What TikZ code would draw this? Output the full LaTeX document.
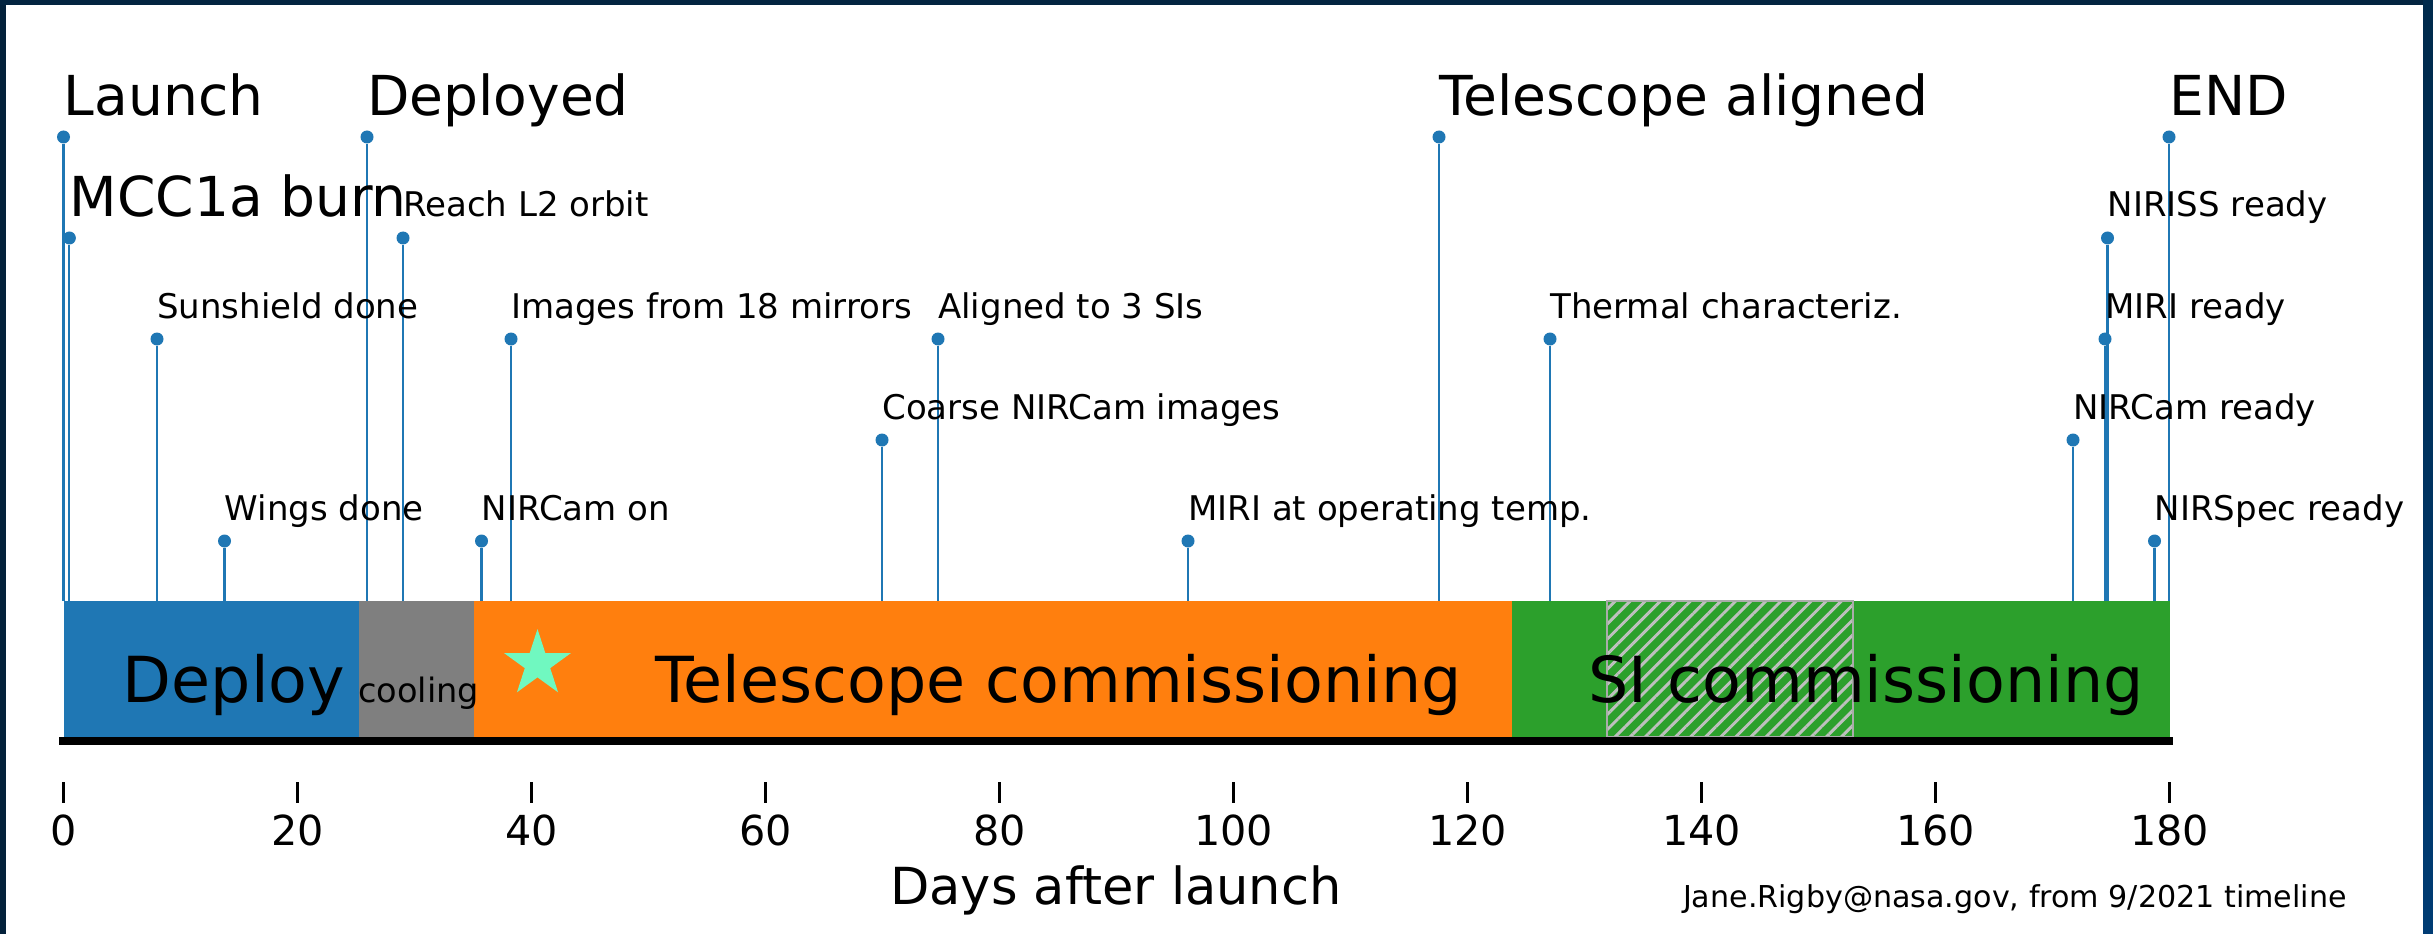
\documentclass[tikz,border=0pt]{standalone}
\usepackage{fontspec}
\setmainfont{DejaVu Sans}
\usepackage{tikz}
\usetikzlibrary{shapes.geometric}
\usetikzlibrary{patterns.meta}

\begin{document}
\begin{tikzpicture}[x=0.75pt,y=0.75pt,yscale=-1,xscale=1,
  stemline/.style={color={rgb, 255:red, 31; green, 119; blue, 180}, line width=1.6},
  evdot/.style={circle, fill={rgb, 255:red, 31; green, 119; blue, 180}, inner sep=0pt, minimum size=9.75},
  bigtxt/.style={anchor=base west, inner sep=0pt, font=\fontsize{41.3}{45}\selectfont},
  smalltxt/.style={anchor=base west, inner sep=0pt, font=\fontsize{25.5}{28}\selectfont},
  barlbl/.style={anchor=base, inner sep=0pt, font=\fontsize{47.6}{52}\selectfont},
  ticklbl/.style={anchor=base, inner sep=0pt, font=\fontsize{31}{34}\selectfont}]
%set diagram left start at 0, and has height of 934
\useasboundingbox (0,0) rectangle (2433,934);
\fill [white] (0,0) rectangle (2433,934);

%Frame
\fill [color={rgb, 255:red, 3; green, 33; blue, 59 }] (0,0) rectangle (6,934);
\fill [color={rgb, 255:red, 3; green, 36; blue, 64 }] (0,0) rectangle (2433,5);
\shade [top color={rgb, 255:red, 0; green, 42; blue, 76 }, bottom color={rgb, 255:red, 0; green, 60; blue, 116 }] (2423,0) rectangle (2433,934);

%Event dots
\coordinate (bartop) at (0,601);
\node [evdot] (launch) at (63.5,137) {};
\node [evdot] (mcc) at (69.4,238) {};
\node [evdot] (sunshield) at (157,339) {};
\node [evdot] (wings) at (224.5,541) {};
\node [evdot] (deployed) at (367,137) {};
\node [evdot] (ltwo) at (403,238) {};
\node [evdot] (ncamon) at (481.5,541) {};
\node [evdot] (mirrors) at (511,339) {};
\node [evdot] (coarse) at (882,440) {};
\node [evdot] (aligned) at (938,339) {};
\node [evdot] (miritemp) at (1188,541) {};
\node [evdot] (telal) at (1439,137) {};
\node [evdot] (thermal) at (1550,339) {};
\node [evdot] (ncamrdy) at (2073,440) {};
\node [evdot] (mirirdy) at (2105,339) {};
\node [evdot] (nirissrdy) at (2107.5,238) {};
\node [evdot] (nirspecrdy) at (2154.5,541) {};
\node [evdot] (endp) at (2169,137) {};

%Stems
\draw [stemline] (launch.south) -- (launch.south |- bartop);
\draw [stemline] (mcc.south) -- (mcc.south |- bartop);
\draw [stemline] (sunshield.south) -- (sunshield.south |- bartop);
\draw [stemline] (wings.south) -- (wings.south |- bartop);
\draw [stemline] (deployed.south) -- (deployed.south |- bartop);
\draw [stemline] (ltwo.south) -- (ltwo.south |- bartop);
\draw [stemline] (ncamon.south) -- (ncamon.south |- bartop);
\draw [stemline] (mirrors.south) -- (mirrors.south |- bartop);
\draw [stemline] (coarse.south) -- (coarse.south |- bartop);
\draw [stemline] (aligned.south) -- (aligned.south |- bartop);
\draw [stemline] (miritemp.south) -- (miritemp.south |- bartop);
\draw [stemline] (telal.south) -- (telal.south |- bartop);
\draw [stemline] (thermal.south) -- (thermal.south |- bartop);
\draw [stemline] (ncamrdy.south) -- (ncamrdy.south |- bartop);
\draw [stemline] (mirirdy.south) -- (mirirdy.south |- bartop);
\draw [stemline] (nirissrdy.south) -- (nirissrdy.south |- bartop);
\draw [stemline] (nirspecrdy.south) -- (nirspecrdy.south |- bartop);
\draw [stemline] (endp.south) -- (endp.south |- bartop);

%Phase bars
\fill [color={rgb, 255:red, 31; green, 119; blue, 180 }] (63.5,601) rectangle (359.4,737);
\fill [color={rgb, 255:red, 127; green, 127; blue, 127 }] (359.4,601) rectangle (474,737);
\fill [color={rgb, 255:red, 255; green, 127; blue, 14 }] (474,601) rectangle (1512,737);
\fill [color={rgb, 255:red, 44; green, 160; blue, 44 }] (1512,601) rectangle (2170,737);
%Hatched block
\fill [pattern={Lines[angle=45,distance=8pt,line width=2.2pt]}, pattern color={rgb, 255:red, 190; green, 192; blue, 190 }] (1607,601) rectangle (1853,737);
\draw [color={rgb, 255:red, 170; green, 172; blue, 170 }, line width=1.5] (1607,601) rectangle (1853,737);
%Axis line
\draw [line width=6] (59,741) -- (2173,741);

%Star
\node [star, star points=5, star point ratio=2.618, inner sep=0pt, minimum size=52.5, fill={rgb, 255:red, 112; green, 248; blue, 192 }] (mark) at (537.5,664) {};

% Text Node
\node [barlbl] (deployT) at (234,702) {Deploy};
\node [barlbl, font=\fontsize{25.2}{28}\selectfont] (coolT) at (418.5,702) {cooling};
\node [barlbl] (telT) at (1058.5,702) {Telescope commissioning};
\node [barlbl] (siT) at (1866,702) {SI commissioning};

% Text Node
\node [bigtxt] (launchT) at (63.5,116) {Launch};
\node [bigtxt] (mccT) at (69.4,217) {MCC1a burn};
\node [smalltxt] (sunshieldT) at (157,318) {Sunshield done};
\node [smalltxt] (wingsT) at (224.5,520) {Wings done};
\node [bigtxt] (deployedT) at (367,116) {Deployed};
\node [smalltxt] (ltwoT) at (403,217) {Reach L2 orbit};
\node [smalltxt] (ncamonT) at (481.5,520) {NIRCam on};
\node [smalltxt] (mirrorsT) at (511,318) {Images from 18 mirrors};
\node [smalltxt] (coarseT) at (882,419) {Coarse NIRCam images};
\node [smalltxt] (alignedT) at (938,318) {Aligned to 3 SIs};
\node [smalltxt] (miritempT) at (1188,520) {MIRI at operating temp.};
\node [bigtxt] (telalT) at (1439,116) {Telescope aligned};
\node [smalltxt] (thermalT) at (1550,318) {Thermal characteriz.};
\node [smalltxt] (ncamrdyT) at (2073,419) {NIRCam ready};
\node [smalltxt] (mirirdyT) at (2105,318) {MIRI ready};
\node [smalltxt] (nirissrdyT) at (2107.5,217) {NIRISS ready};
\node [smalltxt] (nirspecrdyT) at (2154.5,520) {NIRSpec ready};
\node [bigtxt] (endpT) at (2169,116) {END};

%Ticks
\draw [line width=2.25] (63.5,782) -- (63.5,803);
\draw [line width=2.25] (297.5,782) -- (297.5,803);
\draw [line width=2.25] (531.5,782) -- (531.5,803);
\draw [line width=2.25] (765.5,782) -- (765.5,803);
\draw [line width=2.25] (999.5,782) -- (999.5,803);
\draw [line width=2.25] (1233.5,782) -- (1233.5,803);
\draw [line width=2.25] (1467.5,782) -- (1467.5,803);
\draw [line width=2.25] (1701.5,782) -- (1701.5,803);
\draw [line width=2.25] (1935.5,782) -- (1935.5,803);
\draw [line width=2.25] (2169.5,782) -- (2169.5,803);
% Text Node
\node [ticklbl] (t0) at (63.5,845) {0};
\node [ticklbl] (t20) at (297.5,845) {20};
\node [ticklbl] (t40) at (531.5,845) {40};
\node [ticklbl] (t60) at (765.5,845) {60};
\node [ticklbl] (t80) at (999.5,845) {80};
\node [ticklbl] (t100) at (1233.5,845) {100};
\node [ticklbl] (t120) at (1467.5,845) {120};
\node [ticklbl] (t140) at (1701.5,845) {140};
\node [ticklbl] (t160) at (1935.5,845) {160};
\node [ticklbl] (t180) at (2169.5,845) {180};
% Text Node
\node [anchor=base, inner sep=0pt, font=\fontsize{38.3}{42}\selectfont] (xlab) at (1116,904) {Days after launch};
\node [anchor=base east, inner sep=0pt, font=\fontsize{22.6}{25}\selectfont] (credit) at (2347,907) {Jane.Rigby@nasa.gov, from 9/2021 timeline};

\end{tikzpicture}
\end{document}
